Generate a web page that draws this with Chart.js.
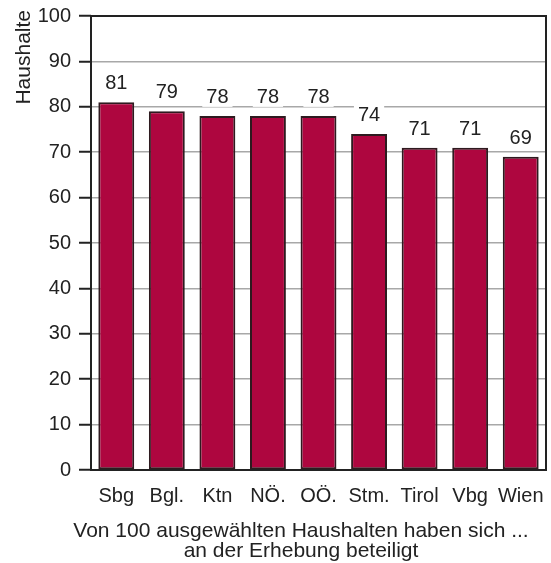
<!DOCTYPE html>
<html>
<head>
<meta charset="utf-8">
<script src="https://cdn.jsdelivr.net/npm/chart.js@4"></script>
<style>
  html, body { margin: 0; padding: 0; background: #fff; }
  #wrap { width: 551px; height: 563px; }
</style>
</head>
<body>
<div id="wrap"><canvas id="haushalte_chart" width="551" height="563"></canvas></div>
<script>
var labels = ["Sbg", "Bgl.", "Ktn", "NÖ.", "OÖ.", "Stm.", "Tirol", "Vbg", "Wien"];
var values = [81, 79, 78, 78, 78, 74, 71, 71, 69];
var yTicks = [0, 10, 20, 30, 40, 50, 60, 70, 80, 90, 100];
var yTitle = "Haushalte";
var xTitle = ["Von 100 ausgewählten Haushalten haben sich ...", "an der Erhebung beteiligt"];

var fontName = "'Liberation Sans', Arial, sans-serif";

// frame, value labels and titles
var extrasPlugin = {
  id: "extras",
  afterDatasetsDraw: function(chart) {
    var ctx = chart.ctx;
    var meta = chart.getDatasetMeta(0);
    ctx.save();
    ctx.font = "20px " + fontName;
    ctx.textAlign = "center";
    ctx.textBaseline = "alphabetic";
    meta.data.forEach(function(bar, i) {
      var txt = String(values[i]);
      var w = ctx.measureText(txt).width;
      var base = bar.y - 13;
      ctx.fillStyle = "#fff";
      ctx.fillRect(bar.x - w / 2 - 4, base - 17, w + 8, 21);
      ctx.fillStyle = "#222";
      ctx.fillText(txt, bar.x, base);
    });
    var a = chart.chartArea;
    ctx.strokeStyle = "#222";
    ctx.lineWidth = 2;
    ctx.strokeRect(a.left, a.top, a.right - a.left, a.bottom - a.top);

    ctx.fillStyle = "#222";
    ctx.font = "21px " + fontName;
    ctx.save();
    ctx.translate(30, 10);
    ctx.rotate(-Math.PI / 2);
    ctx.textAlign = "right";
    ctx.fillText(yTitle, 0, 0);
    ctx.restore();

    ctx.font = "21px " + fontName;
    ctx.textAlign = "center";
    ctx.fillText(xTitle[0], 301, 537);
    ctx.fillText(xTitle[1], 301, 557);
    ctx.restore();
  }
};

var ctx = document.getElementById("haushalte_chart").getContext("2d");
var reportChart = new Chart(ctx, {
  type: "bar",
  data: {
    labels: labels,
    datasets: [{
      data: values,
      backgroundColor: "#AE063F",
      borderColor: "#2e1a1f",
      borderWidth: 2,
      borderSkipped: false,
      barPercentage: 0.71,
      categoryPercentage: 1
    }]
  },
  options: {
    responsive: false,
    animation: false,
    layout: { padding: { left: 0, right: 5, top: 16, bottom: 0 } },
    plugins: {
      legend: { display: false },
      tooltip: { enabled: false }
    },
    scales: {
      x: {
        grid: { display: false },
        border: { display: false },
        ticks: {
          color: "#222",
          font: { family: fontName, size: 20 },
          padding: 6,
          maxRotation: 0,
          autoSkip: false
        },
        afterFit: function(scale) { scale.height = 93; }
      },
      y: {
        min: 0,
        max: 100,
        afterBuildTicks: function(scale) {
          scale.ticks = yTicks.map(function(v) { return { value: v }; });
        },
        grid: {
          color: "#a8a8a8",
          lineWidth: 1.5,
          tickColor: "#222",
          tickLength: 12,
          tickWidth: 2
        },
        border: { display: false },
        ticks: {
          color: "#222",
          font: { family: fontName, size: 20 },
          padding: 8
        },
        afterFit: function(scale) {
          scale.width = 91;
          scale.paddingTop = 0;
          scale.paddingBottom = 0;
        }
      }
    }
  },
  plugins: [extrasPlugin]
});
</script>
</body>
</html>
